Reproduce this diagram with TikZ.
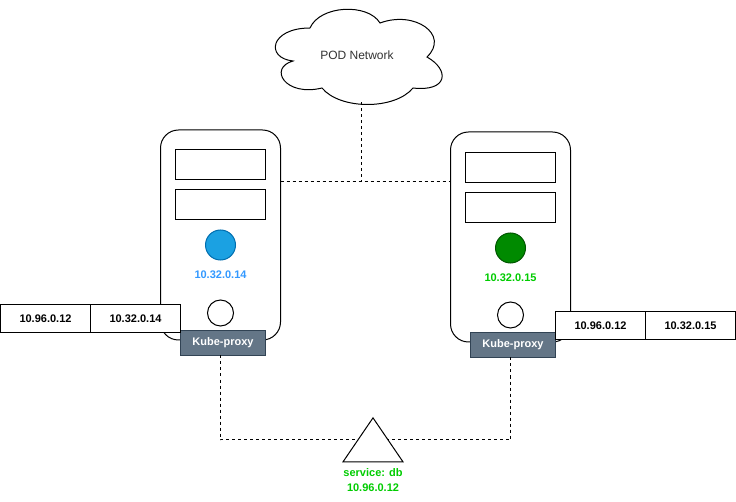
\documentclass[tikz,border=0pt]{standalone}
\usepackage{fontspec}
\setmainfont{Liberation Sans}
\usetikzlibrary{positioning,calc,shapes.geometric}
\definecolor{ProxyFill}{HTML}{647687}
\definecolor{ProxyLine}{HTML}{314354}
\definecolor{PodBlue}{HTML}{1BA1E2}
\definecolor{PodBlueLine}{HTML}{006EAF}
\definecolor{PodGreen}{HTML}{008A00}
\definecolor{PodGreenLine}{HTML}{005700}
\definecolor{IpBlue}{HTML}{3399FF}
\definecolor{IpGreen}{HTML}{00CC00}
\tikzset{
  every node/.style={outer sep=0pt},
  server/.style={draw=black, fill=white, line width=1pt, rounded corners=18pt, minimum width=120pt, minimum height=210pt, inner sep=0pt},
  slot/.style={draw=black, fill=white, line width=1pt, minimum width=90pt, minimum height=30pt, inner sep=0pt},
  pod/.style={draw=#1Line, fill=#1, line width=1pt, circle, minimum size=30pt, inner sep=0pt},
  hole/.style={draw=black, fill=white, line width=1pt, circle, minimum size=26pt, inner sep=0pt},
  proxy/.style={draw=ProxyLine, fill=ProxyFill, line width=0.8pt, minimum width=85pt, minimum height=25.5pt, inner sep=0pt, text=white, font=\fontsize{11}{13}\selectfont\bfseries},
  cell/.style={draw=black, fill=white, line width=1pt, minimum width=90pt, minimum height=28pt, inner sep=0pt, font=\fontsize{11}{13}\selectfont\bfseries},
  iplabel/.style={inner sep=0pt, text=#1, font=\fontsize{11}{13}\selectfont\bfseries},
  link/.style={draw=black, line width=0.9pt, dash pattern=on 3pt off 3pt}
}

\begin{document}
\begin{tikzpicture}[x=1pt, y=-1pt]
  \useasboundingbox (0,0) rectangle (736,502);

  % cloud
  \draw[fill=white, line width=1pt] (310,28)
    .. controls (320,5) and (368,3) .. (380,23)
    .. controls (415,10) and (450,35) .. (427,57)
    .. controls (450,70) and (448,92) .. (413,88)
    .. controls (395,110) and (340,110) .. (322,88)
    .. controls (285,97) and (268,68) .. (293,61)
    .. controls (265,58) and (270,28) .. (310,28) -- cycle;
  \node[minimum width=170pt, minimum height=95pt, inner sep=0pt, font=\fontsize{12}{14}\selectfont, text=black!80] (cloud) at (357,55) {POD Network};

  % left server
  \node[server] (srvA) at (220.5,235) {};
  \node[slot, below=20pt of srvA.north] (slotA1) {};
  \node[slot, below=10pt of slotA1] (slotA2) {};
  \node[pod=PodBlue, below=10pt of slotA2] (podA) {};
  \node[iplabel=IpBlue, below=11pt of podA] (ipA) {10.32.0.14};
  \node[hole, above=14pt of srvA.south] (holeA) {};
  \node[proxy, anchor=north west] (proxyA) at (180.5,330) {Kube-proxy};
  \node[cell, anchor=south east, yshift=-3pt] (natA2) at (proxyA.north west) {10.32.0.14};
  \node[cell, left=0pt of natA2] (natA1) {10.96.0.12};

  % right server
  \node[server, right=170pt of srvA, yshift=-2pt] (srvB) {};
  \node[slot, below=21pt of srvB.north] (slotB1) {};
  \node[slot, below=10pt of slotB1] (slotB2) {};
  \node[pod=PodGreen, below=10pt of slotB2] (podB) {};
  \node[iplabel=IpGreen, below=11pt of podB] (ipB) {10.32.0.15};
  \node[hole, above=14pt of srvB.south] (holeB) {};
  \node[proxy, anchor=north west] (proxyB) at (470.5,332) {Kube-proxy};
  \node[cell, anchor=south west, yshift=-8pt] (natB1) at (proxyB.north east) {10.96.0.12};
  \node[cell, right=0pt of natB1] (natB2) {10.32.0.15};

  % service
  \node[draw=black, fill=white, line width=1pt, isosceles triangle, isosceles triangle stretches, shape border rotate=90, minimum width=60pt, minimum height=44pt, inner sep=0pt] (svc) at (373,446) {};
  \node[iplabel=IpGreen, align=center, below=7pt of svc.south] (svcip) {service: db\\[2pt]10.96.0.12};

  % links
  \coordinate (hub) at ([xshift=4pt]cloud.south |- 0,181);
  \draw[link] ([xshift=4pt]cloud.south) -- (hub);
  \draw[link] (srvA.east |- hub) -- (srvB.west |- hub);
  \draw[link] (podA |- proxyA.south) |- (svc.left side);
  \draw[link] (podB |- proxyB.south) |- (svc.right side);
\end{tikzpicture}
\end{document}
